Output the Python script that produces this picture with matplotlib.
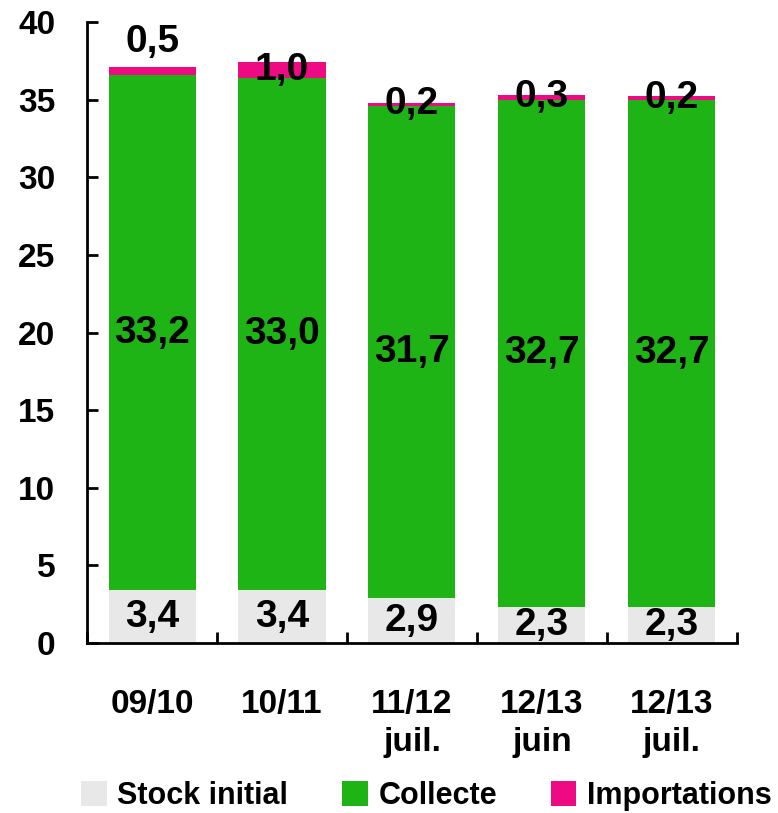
import matplotlib
matplotlib.use("Agg")
import matplotlib.pyplot as plt
import numpy as np

# data
categories = ["09/10", "10/11", "11/12\njuil.", "12/13\njuin", "12/13\njuil."]
stock_initial = [3.4, 3.4, 2.9, 2.3, 2.3]
collecte = [33.2, 33.0, 31.7, 32.7, 32.7]
importations = [0.5, 1.0, 0.2, 0.3, 0.2]

series_names = ["Stock initial", "Collecte", "Importations"]
colors = ["#E8E8E8", "#1EB416", "#EE0A83"]


def fmt(v):
	return ("%.1f" % v).replace(".", ",")


def main():
	plt.rcParams["font.family"] = ["Liberation Sans", "DejaVu Sans"]
	plt.rcParams["font.weight"] = "bold"

	fig = plt.figure(figsize=(7.78, 8.13), dpi=100)
	ax = fig.add_axes([0.112, 0.209, 0.835, 0.764])

	x = np.arange(len(categories))
	width = 0.67
	bottom = np.zeros(len(categories))
	all_series = [stock_initial, collecte, importations]
	for vals, name, col in zip(all_series, series_names, colors):
		vals = np.array(vals)
		ax.bar(x, vals, width, bottom=bottom, color=col, label=name, linewidth=0)
		for i, v in enumerate(vals):
			ypos = bottom[i] + v / 2
			if name == "Importations" and i == 0:
				# this one sits above the bar in the original
				ypos = bottom[i] + v + 1.6
			ax.text(x[i], ypos, fmt(v), ha="center", va="center",
			        fontsize=28, fontweight="bold", color="black")
		bottom = bottom + vals

	ax.set_xlim(-0.5, len(categories) - 0.5)
	ax.set_ylim(0, 40)
	ax.set_yticks(np.arange(0, 41, 5))
	ax.set_xticks(np.arange(len(categories) + 1) - 0.5, minor=False)
	ax.set_xticklabels([])
	ax.set_xticks(x, minor=True)
	ax.set_xticklabels(categories, minor=True, fontsize=24, fontweight="bold",
	                   linespacing=1.3, va="top")
	ax.tick_params(axis="x", which="minor", length=0, pad=33)
	ax.tick_params(axis="x", which="major", direction="in", length=8, width=2)
	ax.tick_params(axis="y", direction="in", length=8, width=2, pad=23,
	               labelsize=24)
	for lab in ax.get_yticklabels():
		lab.set_fontweight("bold")

	for s in ["top", "right"]:
		ax.spines[s].set_visible(False)
	for s in ["left", "bottom"]:
		ax.spines[s].set_linewidth(2)

	fig.legend(loc="center", bbox_to_anchor=(0.548, 0.021), ncol=3,
	           frameon=False, handlelength=0.85, handleheight=0.85,
	           handletextpad=0.35, columnspacing=1.75,
	           prop={"weight": "bold", "size": 22})

	fig.savefig("out.png", dpi=100)


if __name__ == "__main__":
	main()
